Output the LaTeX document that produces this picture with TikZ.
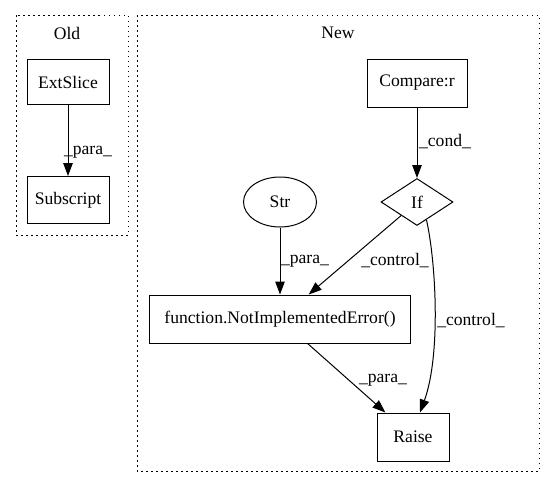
\documentclass[tikz,border=0pt]{standalone}
\usepackage{fontspec}
\setmainfont{Liberation Serif}
\usetikzlibrary{arrows.meta,shapes.geometric,calc}
\begin{document}
\begin{tikzpicture}[x=1pt,y=-1pt,
  every node/.style={font=\fontsize{17.6}{20}\selectfont},
  box/.style={draw,line width=1pt,rectangle,inner sep=0pt},
  cluster/.style={draw,line width=1pt,dash pattern=on 1.5pt off 3.5pt},
  edge/.style={draw,line width=1pt,-{Triangle[length=13pt,width=9.5pt]}},
  elabel/.style={inner sep=0pt}]
\useasboundingbox (0,0) rectangle (555,488);

% clusters
\draw[cluster] (16,15) rectangle (128,235);
\node (oldlbl) at (67,33) {Old};
\draw[cluster] (137,15) rectangle (539,471);
\node (newlbl) at (338,33) {New};

% Old cluster nodes
\node[box,minimum width=82pt,minimum height=45pt] (extslice) at (68,82) {ExtSlice};
\node[box,minimum width=82pt,minimum height=47pt] (subscript) at (68,200) {Subscript};

% New cluster nodes
\node[box,minimum width=100pt,minimum height=48pt] (compare) at (417,83) {Compare:r};
\node[draw,line width=1pt,diamond,aspect=1.53,minimum width=72pt,minimum height=47pt,inner sep=0pt] (if) at (417,202) {If};
\node[draw,line width=1pt,ellipse,minimum width=73pt,minimum height=50pt,inner sep=0pt] (str) at (280,202) {Str};
\node[box,minimum width=261pt,minimum height=48pt] (func) at (280,319) {function.NotImplementedError()};
\node[box,minimum width=72pt,minimum height=48pt] (raise) at (413,437) {Raise};

% connectors
\draw[edge] (extslice) -- (subscript);
\draw[edge] (compare) -- (if);
\draw[edge] (str) -- (func);
\draw[edge] (if) -- (func);
\draw[edge] (func) -- (raise);
\draw[edge] (if.-62) .. controls (436,262) and (441,355) .. ($(raise.north)+(7,0)$);

% connector labels
\node[elabel] (l1) at (88,152) {\_para\_};
\node[elabel] (l2) at (445,142) {\_cond\_};
\node[elabel] (l3) at (305,261) {\_para\_};
\node[elabel] (l4) at (395,261) {\_control\_};
\node[elabel] (l5) at (471,321) {\_control\_};
\node[elabel] (l6) at (383,380) {\_para\_};
\end{tikzpicture}
\end{document}
